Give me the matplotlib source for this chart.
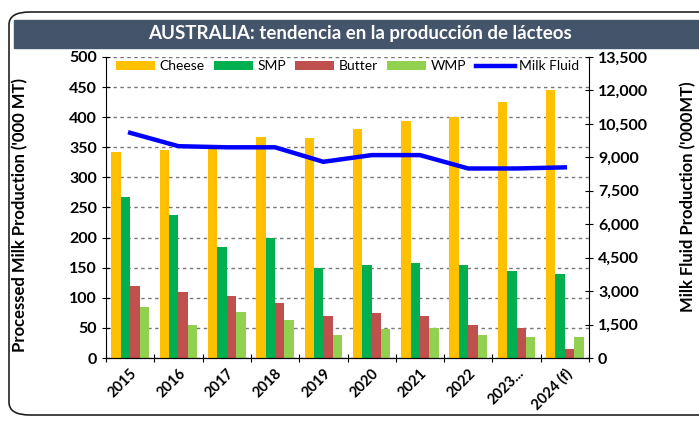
import numpy as np
import matplotlib.pyplot as plt
from matplotlib.patches import FancyBboxPatch, Rectangle

years = ['2015', '2016', '2017', '2018', '2019', '2020', '2021', '2022', '2023...', '2024 (f)']
cheese = [343, 345, 350, 367, 365, 380, 393, 400, 425, 445]
smp = [267, 238, 185, 200, 150, 155, 157, 155, 145, 140]
butter = [120, 110, 103, 92, 70, 75, 70, 55, 50, 15]
wmp = [85, 55, 77, 63, 38, 48, 50, 38, 35, 35]
milk_fluid = [10100, 9500, 9450, 9450, 8800, 9100, 9100, 8500, 8500, 8550]

plt.rcParams['font.family'] = ['Lato', 'DejaVu Sans']

fig = plt.figure(figsize=(6.99, 4.23), dpi=100)
W, H = 699, 423

# outer rounded frame and title banner
fig.patches.append(FancyBboxPatch((9 / W, 8 / H), 720 / W, (H - 20) / H,
                                  boxstyle="round,pad=0,rounding_size=0.03",
                                  transform=fig.transFigure, fill=False,
                                  edgecolor='#222222', linewidth=1.2))
fig.patches.append(Rectangle((14 / W, 1 - 48 / H), 690 / W, 28 / H,
                             transform=fig.transFigure, color='#44546A'))
fig.text(360 / W, 1 - 34 / H, 'AUSTRALIA: tendencia en la producción de lácteos',
         color='white', fontsize=13.5, fontweight='bold', ha='center', va='center')

ax = fig.add_axes([106 / W, 1 - 358 / H, 483 / W, 301 / H])
x = np.arange(len(years))
bw = 0.195
colors = ['#FFC000', '#00B050', '#C0504D', '#92D050']
labels = ['Cheese', 'SMP', 'Butter', 'WMP']
for i, (vals, c, lab) in enumerate(zip([cheese, smp, butter, wmp], colors, labels)):
    ax.bar(x + (i - 1.5) * bw, vals, bw, color=c, label=lab, zorder=2)

ax.set_xlim(-0.5, len(years) - 0.5)
ax.set_ylim(0, 500)
ax.set_yticks(np.arange(0, 501, 50))
ax.yaxis.grid(True, linestyle=(0, (2.5, 2.5)), color='#777777', linewidth=1, zorder=0)
ax.set_axisbelow(True)
ax.set_xticks(np.arange(-0.5, len(years), 1))
ax.set_xticklabels([])
ax.set_xticks(x, minor=True)
ax.set_xticklabels(years, minor=True, rotation=45, ha='right', rotation_mode='anchor',
                   fontsize=10.5, fontweight='bold')
ax.tick_params(axis='x', which='minor', length=0, pad=6)
ax.tick_params(axis='x', which='major', direction='inout', length=6)
ax.tick_params(axis='y', direction='inout', length=6, labelsize=11.5)
for t in ax.get_yticklabels():
    t.set_fontweight('bold')
ax.spines['top'].set_visible(False)
ax.spines['right'].set_visible(False)
ax.set_ylabel("Processed Milk Production ('000 MT)", fontsize=12, fontweight='bold')
ax.yaxis.set_label_coords(-78 / 483, 0.475)

ax2 = ax.twinx()
ax2.plot(x, milk_fluid, color='#0000FF', linewidth=3.2, label='Milk Fluid', zorder=3)
ax2.set_ylim(0, 13500)
ax2.set_yticks(np.arange(0, 13501, 1500))
ax2.set_yticklabels([f'{v:,}' for v in range(0, 13501, 1500)])
ax2.tick_params(axis='y', direction='inout', length=6, labelsize=11.5)
for t in ax2.get_yticklabels():
    t.set_fontweight('bold')
ax2.spines['top'].set_visible(False)
ax2.spines['left'].set_visible(False)
ax2.set_ylabel("Milk Fluid Production ('000MT)", fontsize=12, fontweight='bold')
ax2.yaxis.set_label_coords(1 + 91 / 483, 0.535)

h1, l1 = ax.get_legend_handles_labels()
h2, l2 = ax2.get_legend_handles_labels()
ax2.legend(h1 + h2, l1 + l2, loc='upper center', ncol=5, frameon=False,
           bbox_to_anchor=(0.5, 1.03), fontsize=10, handlelength=2.8,
           columnspacing=0.7, handletextpad=0.3)

fig.savefig('out.png', dpi=100)
